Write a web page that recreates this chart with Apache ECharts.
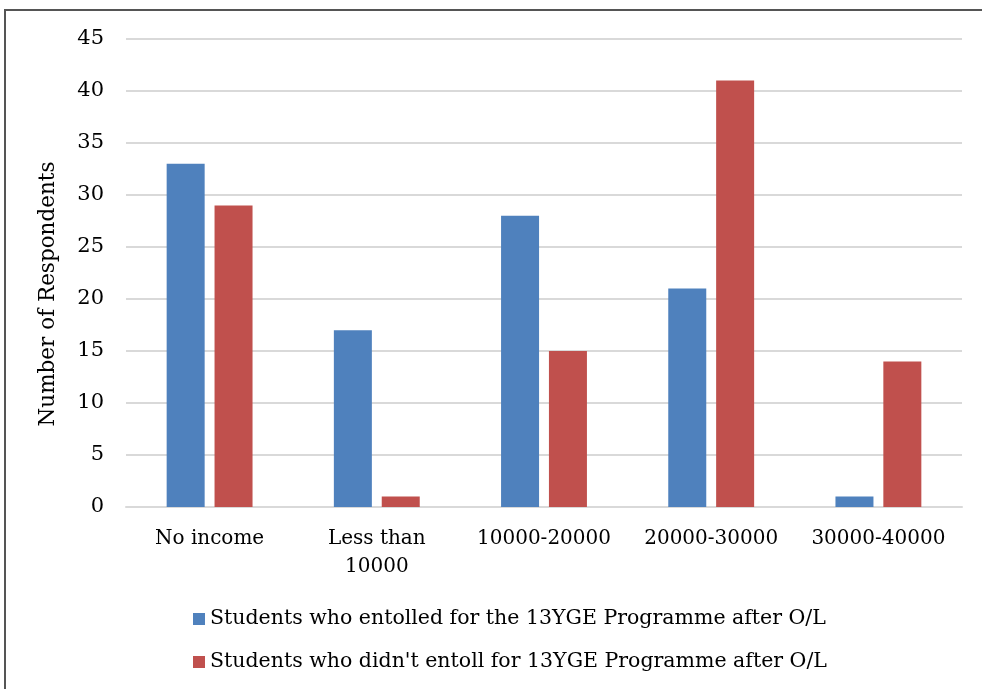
<!DOCTYPE html>
<html>
<head>
<meta charset="utf-8">
<script src="https://cdn.jsdelivr.net/npm/echarts@6/dist/echarts.min.js"></script>
<style>
  html, body { margin: 0; padding: 0; background: #fff; }
  #chart { width: 982px; height: 689px; }
</style>
</head>
<body>
<div id="chart"></div>
<script>
// Income groups and respondent counts
const categories = ['No income', 'Less than\n10000', '10000-20000', '20000-30000', '30000-40000'];
const enrolled = [33, 17, 28, 21, 1];
const notEnrolled = [29, 1, 15, 41, 14];
const seriesNames = [
  'Students who entolled for the 13YGE Programme after O/L',
  "Students who didn't entoll for 13YGE Programme after O/L"
];
const yTicks = { min: 0, max: 45, interval: 5 };

const FONT = 'DejaVu Serif';
const chart = echarts.init(document.getElementById('chart'), null, { renderer: 'canvas' });

chart.setOption({
  animation: false,
  backgroundColor: '#fff',
  textStyle: { fontFamily: FONT, color: '#000' },
  graphic: [{
    type: 'rect',
    shape: { x: 5, y: 10, width: 1100, height: 1100 },
    style: { fill: 'none', stroke: '#555', lineWidth: 2 },
    silent: true
  }],
  grid: { left: 126, right: 20, top: 39, bottom: 182, containLabel: false },
  legend: {
    orient: 'vertical',
    left: 188,
    top: 602,
    itemWidth: 12,
    itemHeight: 12,
    itemGap: 19,
    icon: 'rect',
    textStyle: { fontFamily: FONT, fontSize: 20.5, color: '#000', lineHeight: 24 },
    data: seriesNames
  },
  xAxis: {
    type: 'category',
    data: categories,
    axisLine: { show: true, lineStyle: { color: '#d9d9d9', width: 2 } },
    axisTick: { show: false },
    axisLabel: {
      interval: 0,
      margin: 18,
      fontFamily: FONT,
      fontSize: 20,
      color: '#000',
      lineHeight: 28
    }
  },
  yAxis: {
    type: 'value',
    min: yTicks.min,
    max: yTicks.max,
    interval: yTicks.interval,
    name: 'Number of Respondents',
    nameLocation: 'middle',
    nameGap: 67,
    nameTextStyle: { fontFamily: FONT, fontSize: 21.5, color: '#000', padding: [0, 42, 0, 0] },
    axisLine: { show: false },
    axisTick: { show: false },
    splitLine: { lineStyle: { color: '#d9d9d9', width: 2 } },
    axisLabel: { fontFamily: FONT, fontSize: 21, color: '#000', margin: 22 }
  },
  series: [
    {
      name: seriesNames[0],
      type: 'bar',
      data: enrolled,
      barWidth: 38,
      barGap: '26%',
      itemStyle: { color: '#4F81BD' }
    },
    {
      name: seriesNames[1],
      type: 'bar',
      data: notEnrolled,
      barWidth: 38,
      itemStyle: { color: '#C0504D' }
    }
  ]
});
</script>
</body>
</html>
